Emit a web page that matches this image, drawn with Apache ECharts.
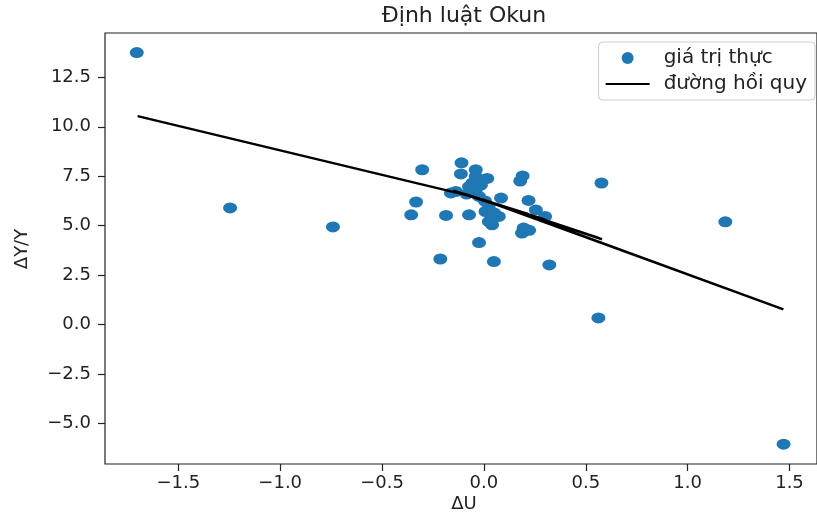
<!DOCTYPE html>
<html>
	<head>
		<meta charset="UTF-8">
		<title>Định luật Okun</title>
		<script type="text/javascript" src="https://cdn.jsdelivr.net/npm/echarts@6.0.0/dist/echarts.min.js"></script>
		<style>
			body { margin: 0; background: #fff; }
			#okun { width: 817px; height: 514px; }
		</style>
	</head>

	<body>
		<div id="okun"></div>

		<script>
		// ΔU (x) and ΔY/Y (y)
		var duValues = [-1.704, -1.246, -0.741, -0.357, -0.333, -0.303, -0.214, -0.186, -0.162, -0.138,
			-0.110, -0.113, -0.073, -0.073, -0.056, -0.040, -0.040, -0.040, -0.024, -0.024,
			0.008, 0.016, 0.024, 0.024, 0.040, 0.049, 0.073, 0.084, 0.178, 0.190,
			0.195, 0.187, 0.222, 0.219, 0.255, 0.300, 0.321, 0.562, 0.577, 1.185,
			1.471, -0.015, -0.085, 0.005, 0.035, 0.050];
		var dyValues = [13.75, 5.90, 4.94, 5.55, 6.20, 7.83, 3.32, 5.52, 6.66, 6.73,
			8.18, 7.62, 5.55, 6.98, 7.16, 7.83, 7.49, 6.82, 6.48, 4.15,
			5.72, 7.39, 5.89, 5.21, 5.05, 3.19, 5.47, 6.40, 7.26, 7.52,
			4.88, 4.63, 4.77, 6.28, 5.80, 5.47, 3.02, 0.34, 7.16, 5.20,
			-6.04, 7.05, 6.60, 6.25, 5.55, 5.65];

		// fitted curve, points in the order they were plotted
		var fitX = [-1.70, -0.05, 0.58, 0.03, 1.47, 0.00, 0.56, -0.15, 0.30, -0.10, 0.22, -0.05];
		var fitY = [10.54, 6.46, 4.32, 6.20, 0.77, 6.30, 4.40, 6.77, 5.31, 6.62, 5.58, 6.46];

		var xTicks = [-1.5, -1.0, -0.5, 0.0, 0.5, 1.0, 1.5];
		var yTicks = [-5.0, -2.5, 0.0, 2.5, 5.0, 7.5, 10.0, 12.5];

		var font = "DejaVu Sans";

		function pairs(xs, ys) {
			var out = [];
			for (var i = 0; i < xs.length; i++) {
				out.push([xs[i], ys[i]]);
			}
			return out;
		}

		function tickText(v) {
			return (v < 0 ? "\u2212" : "") + Math.abs(v).toFixed(1);
		}

		var axisCommon = {
			type: "value",
			axisLine: { show: false, onZero: false },
			axisTick: { show: true, length: 7, lineStyle: { color: "#222", width: 1.2 } },
			splitLine: { show: false },
			axisLabel: { color: "#222", fontFamily: font, fontSize: 18, formatter: tickText }
		};

		var option = {
			backgroundColor: "#fff",
			animation: false,
			grid: {
				left: 105, top: 33, width: 719, height: 431,
				show: true, borderColor: "#222", borderWidth: 1.2
			},
			xAxis: echarts.util.merge({
				min: -1.86, max: 1.635,
				axisTick: { customValues: xTicks },
				axisLabel: { customValues: xTicks, margin: 10 }
			}, axisCommon),
			yAxis: echarts.util.merge({
				min: -7.04, max: 14.74,
				axisTick: { customValues: yTicks },
				axisLabel: { customValues: yTicks, margin: 14 }
			}, axisCommon),
			legend: {
				orient: "vertical",
				right: 2, top: 42,
				padding: [6, 8, 6, 6],
				itemWidth: 44, itemHeight: 12, itemGap: 6,
				backgroundColor: "#fff",
				borderColor: "#cccccc", borderWidth: 1, borderRadius: 4,
				textStyle: { color: "#222", fontFamily: font, fontSize: 20, padding: [0, 0, 0, 9] },
				data: [
					{ name: "giá trị thực", icon: "circle" },
					{ name: "đường hồi quy", itemStyle: { opacity: 0 } }
				]
			},
			graphic: [
				{
					type: "text", x: 464, y: 16,
					style: { text: "Định luật Okun", fill: "#222", font: "22px " + font, textAlign: "center", textVerticalAlign: "middle" }
				},
				{
					type: "text", x: 464, y: 504,
					style: { text: "ΔU", fill: "#222", font: "18px " + font, textAlign: "center", textVerticalAlign: "middle" }
				},
				{
					type: "text", x: 22, y: 249, rotation: Math.PI / 2,
					style: { text: "ΔY/Y", fill: "#222", font: "18px " + font, textAlign: "center", textVerticalAlign: "middle" }
				}
			],
			series: [
				{
					name: "giá trị thực",
					type: "scatter",
					symbol: "circle",
					symbolSize: [14, 11],
					itemStyle: { color: "#1f77b4", opacity: 1 },
					data: pairs(duValues, dyValues),
					z: 2
				},
				{
					name: "đường hồi quy",
					type: "line",
					symbol: "none",
					lineStyle: { color: "#000", width: 2.5 },
					itemStyle: { color: "#000" },
					data: pairs(fitX, fitY),
					z: 3
				}
			]
		};

		var chart = echarts.init(document.getElementById("okun"));
		chart.setOption(option);
		</script>
	</body>
</html>
